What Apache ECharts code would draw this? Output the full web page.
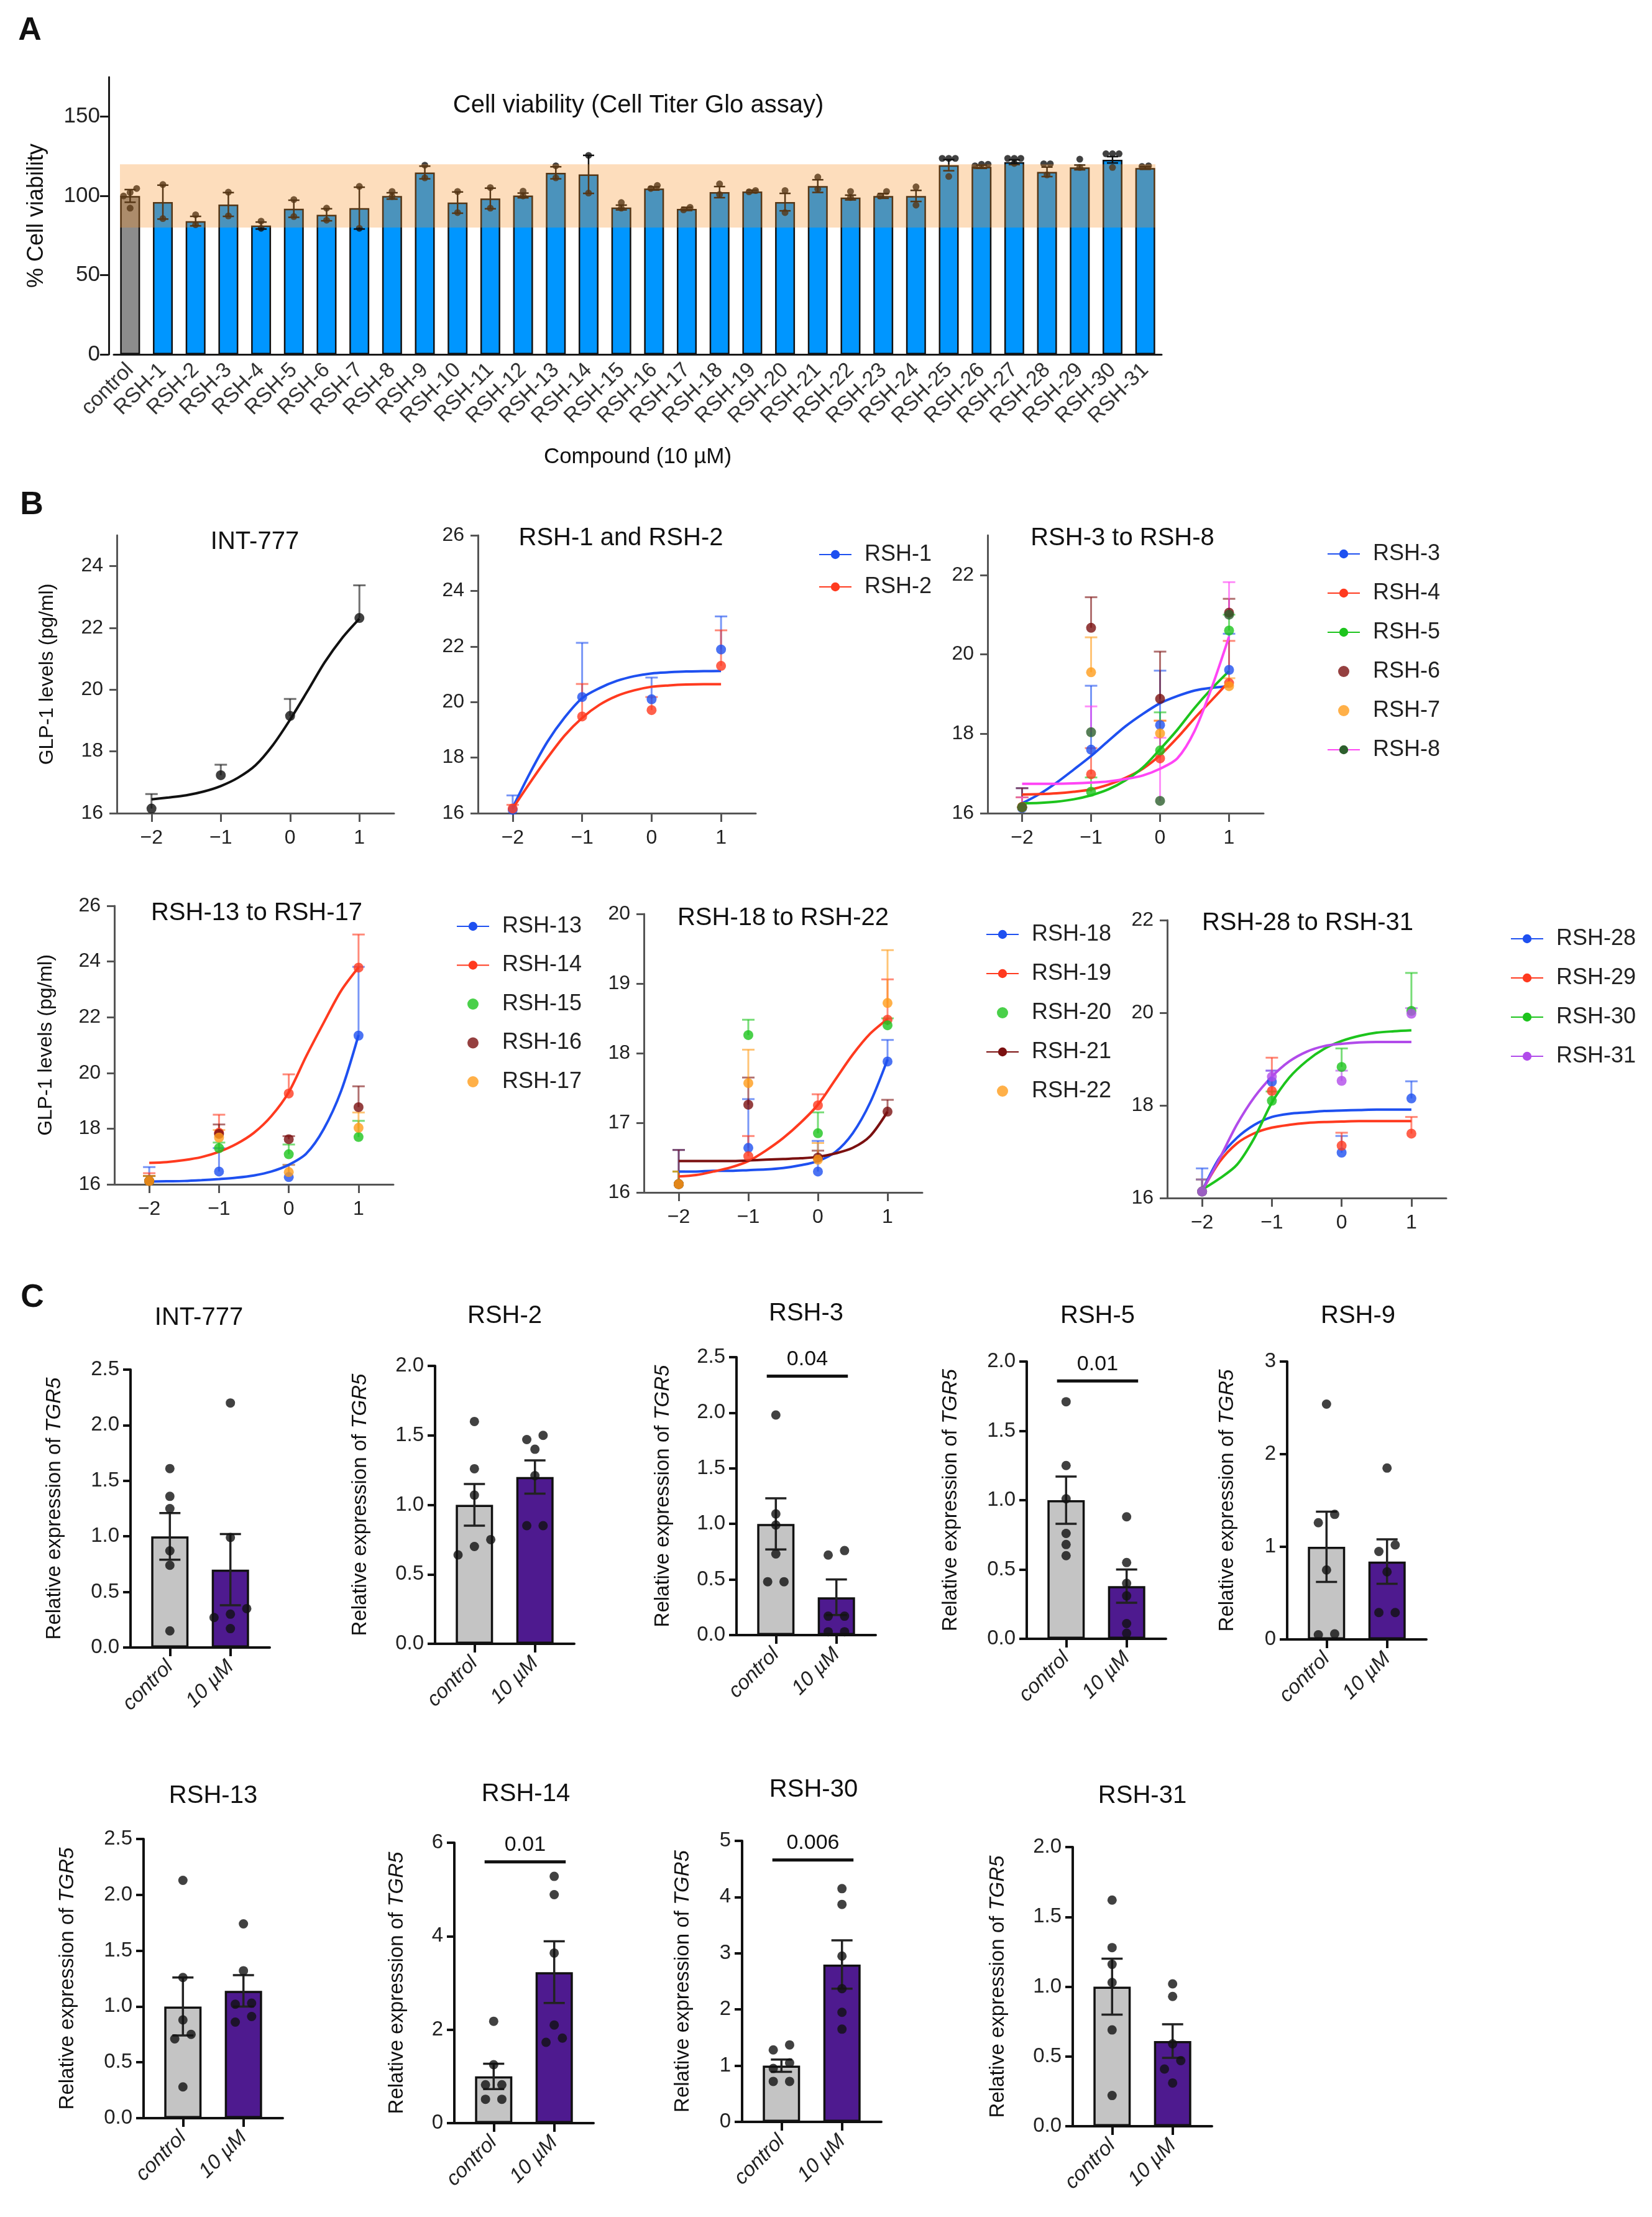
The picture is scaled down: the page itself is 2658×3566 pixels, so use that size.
<!DOCTYPE html>
<html><head><meta charset="utf-8">
<script src="https://cdn.jsdelivr.net/npm/echarts@6/dist/echarts.min.js"></script>
<style>html,body{margin:0;padding:0;background:#fff}#c{width:2658px;height:3566px}</style>
</head><body><div id="c"></div>
<script>
const FONT = "'Liberation Sans', Arial, Helvetica, sans-serif";

// ================= DATA =================
// Panel A
const aCategories = ['control','RSH-1','RSH-2','RSH-3','RSH-4','RSH-5','RSH-6','RSH-7','RSH-8','RSH-9','RSH-10','RSH-11','RSH-12','RSH-13','RSH-14','RSH-15','RSH-16','RSH-17','RSH-18','RSH-19','RSH-20','RSH-21','RSH-22','RSH-23','RSH-24','RSH-25','RSH-26','RSH-27','RSH-28','RSH-29','RSH-30','RSH-31'];
const aMeans = [100,96.1,84.1,94.6,81.3,91.9,88.1,92.3,100,114.8,95.8,98.4,100.3,114.6,113.6,92.7,104.7,91.8,102.4,102.8,96.1,106.2,99,100,100,119.4,118.4,121.3,115.2,118,122.8,117.6];
const aErrors = [4,10.7,3,7.5,2.2,5.4,3.8,13.2,2,4,6.7,6.5,1.5,3.8,12,1.5,1,1,3.5,0.8,5.5,4,1.5,1.5,3.5,3.5,1,1.5,3,1.5,2,0.8];
const aPoints = [[104.7,102.2,100,92.3],[107.2,85.7],[88.1,81.9],[102.4,87.4],[84.1,79.6],[97.7,87],[92.3,84.7],[106,79.6],[102.8,99.6],[119.4,111.4],[102.8,89.5],[105.3,92.3],[103,100],[119,111.4],[125.6,101.8],[95.8,92.3],[106.6,104.7],[92.8,91.2],[107.6,100.9],[103.4,102.6],[103.4,89.5],[111.9,104.3],[102.8,99],[102.8,100],[105.7,94.2],[123.7,123.7,123.7,112.3],[120,120,119],[123.7,123.7,123.7,120.5],[120.3,120.3,113.3],[123.2,118],[126.6,126.6,126.6,118],[119,118.6]];
const aBand = [80, 120];
const aYTicks = [0, 50, 100, 150];

// Panel B
const doseX = [-2, -1, 0, 1];
const curveX = [-2, -1.75, -1.5, -1.25, -1, -0.75, -0.5, -0.25, 0, 0.25, 0.5, 0.75, 1];
const bXTicks = [-2, -1, 0, 1];

const b1Names = ['INT-777'];
const b1Means = [[16.15,17.23,19.15,22.32]];
const b1Upper = [[16.62,17.57,19.70,23.38]];
const b1Curves = [[16.45,16.51,16.58,16.70,16.88,17.15,17.55,18.20,19.03,19.95,20.89,21.67,22.30]];
const b1YTicks = [16,18,20,22,24];

const b2Names = ['RSH-1','RSH-2'];
const b2Means = [[16.12,20.18,20.10,21.89],[16.17,19.48,19.71,21.30]];
const b2Upper = [[16.64,22.13,20.88,23.08],[16.30,20.65,20.18,22.58]];
const b2Curves = [[16.20,17.45,18.57,19.45,20.14,20.50,20.76,20.93,21.03,21.07,21.10,21.11,21.12],[16.17,17.10,17.99,18.80,19.43,19.90,20.22,20.42,20.55,20.60,20.63,20.64,20.64]];
const b2YTicks = [16,18,20,22,24,26];

const b3Names = ['RSH-3','RSH-4','RSH-5','RSH-6','RSH-7','RSH-8'];
const b3Means = [[16.13,17.60,18.22,19.61],[16.16,16.98,17.38,19.28],[16.15,16.54,17.58,20.60],[16.15,20.67,18.88,21.05],[16.15,19.55,18.01,19.20],[16.15,18.04,16.31,21.00]];
const b3Upper = [[16.63,19.21,19.59,20.52],[16.40,17.64,18.33,20.34],[16.40,16.90,18.54,21.00],[16.63,21.44,20.07,21.40],[16.40,20.43,18.33,19.40],[16.40,18.69,17.90,21.82]];
const b3Curves = [[16.25,16.48,16.77,17.10,17.44,17.82,18.19,18.50,18.77,18.95,19.09,19.16,19.20],[16.47,16.48,16.50,16.54,16.60,16.72,16.89,17.12,17.46,17.90,18.39,18.85,19.32],[16.25,16.26,16.29,16.35,16.45,16.60,16.83,17.15,17.61,18.10,18.65,19.14,19.58],null,null,[16.74,16.74,16.74,16.75,16.77,16.80,16.86,16.95,17.12,17.38,18.07,19.17,20.45]];
const b3YTicks = [16,18,20,22];

const b4Names = ['RSH-13','RSH-14','RSH-15','RSH-16','RSH-17'];
const b4Means = [[16.12,16.46,16.26,21.34],[16.12,17.85,19.26,23.78],[16.12,17.30,17.08,17.70],[16.12,17.81,17.62,18.77],[16.12,17.68,16.44,18.03]];
const b4Upper = [[16.62,17.30,16.70,23.81],[16.40,18.50,19.95,24.97],[16.30,17.50,17.43,18.28],[16.30,18.15,17.73,19.52],[16.30,17.95,16.70,18.58]];
const b4Curves = [[16.10,16.11,16.12,16.15,16.19,16.24,16.32,16.46,16.70,17.10,17.98,19.35,21.36],[16.77,16.80,16.87,16.98,17.17,17.45,17.85,18.45,19.31,20.60,21.80,22.95,23.79],null,null,null];
const b4YTicks = [16,18,20,22,24,26];

const b5Names = ['RSH-18','RSH-19','RSH-20','RSH-21','RSH-22'];
const b5Means = [[16.12,16.64,16.30,17.88],[16.12,16.52,17.25,18.48],[16.12,18.26,16.85,18.40],[16.12,17.26,16.50,17.16],[16.12,17.57,16.47,18.72]];
const b5Upper = [[16.61,17.34,16.74,18.19],[16.30,16.81,17.41,19.06],[16.30,18.48,17.15,18.50],[16.61,17.65,16.60,17.33],[16.30,18.05,16.71,19.48]];
const b5Curves = [[16.30,16.30,16.31,16.31,16.32,16.33,16.35,16.39,16.45,16.58,16.85,17.29,17.91],[16.23,16.25,16.30,16.36,16.45,16.60,16.78,17.00,17.26,17.62,17.98,18.28,18.49],null,[16.45,16.45,16.45,16.45,16.46,16.47,16.48,16.49,16.51,16.56,16.64,16.81,17.16],null];
const b5YTicks = [16,17,18,19,20];

const b6Names = ['RSH-28','RSH-29','RSH-30','RSH-31'];
const b6Means = [[16.14,18.51,16.98,18.15],[16.14,18.31,17.13,17.39],[16.14,18.10,18.83,20.04],[16.14,18.62,18.53,19.98]];
const b6Upper = [[16.64,18.75,17.34,18.52],[16.40,19.03,17.41,17.75],[16.40,18.30,19.23,20.86],[16.40,18.75,18.75,20.10]];
const b6Curves = [[16.15,16.87,17.30,17.58,17.75,17.82,17.85,17.88,17.89,17.90,17.91,17.91,17.91],[16.15,16.78,17.18,17.40,17.52,17.58,17.62,17.64,17.65,17.66,17.66,17.66,17.66],[16.18,16.42,16.72,17.30,18.06,18.60,18.96,19.22,19.39,19.50,19.57,19.60,19.62],[16.15,16.85,17.59,18.18,18.62,18.95,19.16,19.28,19.33,19.36,19.37,19.37,19.37]];
const b6YTicks = [16,18,20,22];

// Panel C
const cTitles = ['INT-777','RSH-2','RSH-3','RSH-5','RSH-9','RSH-13','RSH-14','RSH-30','RSH-31'];
const cGroups = ['control','10 µM'];
const cMeans = [[1.00,0.70],[1.00,1.20],[1.00,0.34],[1.00,0.38],[1.00,0.84],[1.00,1.14],[1.00,3.23],[1.00,2.80],[1.00,0.61]];
const cSEM = [[0.21,0.32],[0.15,0.12],[0.23,0.16],[0.17,0.12],[0.38,0.24],[0.26,0.14],[0.27,0.66],[0.11,0.43],[0.20,0.12]];
const cControlPts = [[1.61,1.36,1.25,0.87,0.74,0.15],[1.60,1.26,1.07,0.75,0.70,0.64],[1.98,1.09,0.99,0.73,0.48,0.48],[1.71,1.25,1.01,0.76,0.68,0.60],[2.54,1.35,1.26,0.75,0.05,0.06],[2.13,1.26,0.88,0.75,0.71,0.28],[2.18,1.25,0.82,0.82,0.51,0.51],[1.37,1.28,1.05,0.95,0.72,0.72],[1.62,1.28,1.16,1.03,0.69,0.22]];
const cTreatedPts = [[2.20,0.99,0.35,0.27,0.30,0.17],[1.47,1.50,1.40,1.21,0.85,0.85],[0.72,0.76,0.17,0.17,0.03,0.03],[0.88,0.55,0.40,0.31,0.11,0.04],[1.85,1.02,0.95,0.73,0.29,0.29],[1.74,1.32,1.03,1.02,0.91,0.86],[5.28,4.89,3.64,2.10,1.73,1.82],[4.15,3.87,2.95,2.37,1.95,1.65],[1.02,0.93,0.59,0.47,0.41,0.31]];
const cPValues = [null,null,'0.04','0.01',null,null,'0.01','0.006',null];
const cBracketY = [null,null,2.33,1.86,null,null,5.59,4.66,null];
const cYMax = [2.5,2.0,2.5,2.0,3,2.5,6,5,2.0];
const cYStep = [0.5,0.5,0.5,0.5,1,0.5,2,1,0.5];
const cYDecimals = [1,1,1,1,0,1,0,0,1];

// ================= STYLE / LAYOUT =================
const C = {blue:'#1E50F0', red:'#FF3A1F', green:'#1DC41D', darkred:'#7B1010', orange:'#FF9C1A', magenta:'#FF45F5', darkgreen:'#2D5F2D', purple:'#B14BEA', black:'#111111'};
const bStyle = {
  'INT-777':{line:C.black, dot:C.black},
  'RSH-1':{line:C.blue, dot:C.blue}, 'RSH-2':{line:C.red, dot:C.red},
  'RSH-3':{line:C.blue, dot:C.blue}, 'RSH-4':{line:C.red, dot:C.red}, 'RSH-5':{line:C.green, dot:C.green},
  'RSH-6':{line:null, dot:C.darkred}, 'RSH-7':{line:null, dot:C.orange}, 'RSH-8':{line:C.magenta, dot:C.darkgreen},
  'RSH-13':{line:C.blue, dot:C.blue}, 'RSH-14':{line:C.red, dot:C.red}, 'RSH-15':{line:null, dot:C.green},
  'RSH-16':{line:null, dot:C.darkred}, 'RSH-17':{line:null, dot:C.orange},
  'RSH-18':{line:C.blue, dot:C.blue}, 'RSH-19':{line:C.red, dot:C.red}, 'RSH-20':{line:null, dot:C.green},
  'RSH-21':{line:C.darkred, dot:C.darkred}, 'RSH-22':{line:null, dot:C.orange},
  'RSH-28':{line:C.blue, dot:C.blue}, 'RSH-29':{line:C.red, dot:C.red}, 'RSH-30':{line:C.green, dot:C.green}, 'RSH-31':{line:C.purple, dot:C.purple}
};

const bPanels = [
  {names:b1Names, means:b1Means, upper:b1Upper, curves:b1Curves, ymax:25, yticks:b1YTicks, title:'INT-777',
   L:{left:188, top:861, width:446, height:447, tx:410, ty:872, yName:true, nameGap:96}},
  {names:b2Names, means:b2Means, upper:b2Upper, curves:b2Curves, ymax:26, yticks:b2YTicks, title:'RSH-1 and RSH-2',
   L:{left:769, top:861, width:447, height:447, tx:999, ty:866, lg:{left:1317, top:873, gap:14}}},
  {names:b3Names, means:b3Means, upper:b3Upper, curves:b3Curves, ymax:23, yticks:b3YTicks, title:'RSH-3 to RSH-8',
   L:{left:1589, top:861, width:444, height:447, tx:1806, ty:866, lg:{left:2135, top:872, gap:25}}},
  {names:b4Names, means:b4Means, upper:b4Upper, curves:b4Curves, ymax:26, yticks:b4YTicks, title:'RSH-13 to RSH-17',
   L:{left:184, top:1457, width:449, height:448, tx:413, ty:1469, yName:true, nameGap:94, lg:{left:734, top:1471, gap:24.5}}},
  {names:b5Names, means:b5Means, upper:b5Upper, curves:b5Curves, ymax:20, yticks:b5YTicks, title:'RSH-18 to RSH-22',
   L:{left:1036, top:1470, width:448, height:448, tx:1260, ty:1477, lg:{left:1586, top:1484, gap:25}}},
  {names:b6Names, means:b6Means, upper:b6Upper, curves:b6Curves, ymax:22, yticks:b6YTicks, title:'RSH-28 to RSH-31',
   L:{left:1878, top:1480, width:449, height:447, tx:2104, ty:1485, lg:{left:2430, top:1491, gap:25}}}
];

const cLayout = [
  {left:210, top:2203, height:447, nameGap:106, tx:320, ty:2120},
  {left:700, top:2197, height:447, nameGap:104, tx:812, ty:2117},
  {left:1185, top:2183, height:447, nameGap:102, tx:1297, ty:2113},
  {left:1652, top:2190, height:446, nameGap:106, tx:1766, ty:2117},
  {left:2071, top:2190, height:447, nameGap:80, tx:2185, ty:2117},
  {left:231, top:2958, height:449, nameGap:106, tx:343, ty:2889},
  {left:731, top:2964, height:451, nameGap:76, tx:846, ty:2886},
  {left:1194, top:2961, height:452, nameGap:79, tx:1309, ty:2879},
  {left:1726, top:2971, height:449, nameGap:104, tx:1838, ty:2889}
];
const cBarColors = ['#C4C4C4', '#4E1A8F'];
const cBracketX = [-0.15, 1.19];
const aBandX = [-0.31, 31.31];

// ================= HELPERS =================
const grids = [], xAxes = [], yAxes = [], series = [], legends = [], graphics = [];
function addGrid(g) { grids.push(Object.assign({outerBoundsMode:'none', containLabel:false, show:false}, g)); return grids.length - 1; }
function gText(text, x, y, size, bold) {
  return {type:'text', x:x, y:y, z:100, silent:true, style:{text:text, font:(bold ? 'bold ' : '') + size + 'px ' + FONT, fill:'#111',
    align:'center', verticalAlign:'middle', textAlign:'center', textVerticalAlign:'middle'}};
}
function swarm(center, vals, thr, step) {
  const idx = vals.map((v, i) => i).sort((a, b) => vals[a] - vals[b]);
  const out = new Array(vals.length);
  let cl = [idx[0]];
  const flush = () => { const k = cl.length; cl.forEach((j, n) => { out[j] = [center + (n - (k - 1) / 2) * step, vals[j]]; }); };
  for (let t = 1; t < idx.length; t++) {
    if (vals[idx[t]] - vals[idx[t - 1]] < thr) cl.push(idx[t]); else { flush(); cl = [idx[t]]; }
  }
  flush();
  return out;
}
function errRender(color, capHalf, lw, opacity, both) {
  return function (params, api) {
    const x = api.value(0), lo = api.value(1), hi = api.value(2);
    const p0 = api.coord([x, lo]), p1 = api.coord([x, hi]);
    const st = {stroke:color, lineWidth:lw, opacity:opacity};
    const ch = [
      {type:'line', shape:{x1:p0[0], y1:p0[1], x2:p1[0], y2:p1[1]}, style:st},
      {type:'line', shape:{x1:p1[0] - capHalf, y1:p1[1], x2:p1[0] + capHalf, y2:p1[1]}, style:st}
    ];
    if (both) ch.push({type:'line', shape:{x1:p0[0] - capHalf, y1:p0[1], x2:p0[0] + capHalf, y2:p0[1]}, style:st});
    return {type:'group', children:ch};
  };
}
const fmtDose = v => (v < 0 ? '\u2212' + Math.abs(v) : String(v));

// ================= PANEL A =================
graphics.push(gText('A', 48, 50, 52, true));
graphics.push(gText('Cell viability (Cell Titer Glo assay)', 1027, 170, 40, false));
const gA = addGrid({left:183, top:124, width:1686, height:446});
xAxes.push({gridIndex:gA, type:'category', data:aCategories, boundaryGap:true,
  axisLine:{onZero:false, lineStyle:{color:'#1a1a1a', width:3}},
  axisTick:{alignWithLabel:true, length:11, lineStyle:{color:'#1a1a1a', width:3}},
  axisLabel:{interval:0, rotate:45, fontSize:34, color:'#333', fontFamily:FONT, margin:20},
  splitLine:{show:false},
  name:'Compound (10 µM)', nameLocation:'middle', nameGap:148, nameTextStyle:{fontSize:35, color:'#111', fontFamily:FONT}});
const xA = xAxes.length - 1;
xAxes.push({gridIndex:gA, type:'value', min:-0.5, max:aCategories.length - 0.5, show:false});
const xA2 = xAxes.length - 1;
yAxes.push({gridIndex:gA, type:'value', min:0, max:175, offset:8,
  axisLine:{show:true, onZero:false, lineStyle:{color:'#1a1a1a', width:3}},
  axisTick:{show:true, length:14, customValues:aYTicks, lineStyle:{color:'#1a1a1a', width:3}},
  axisLabel:{customValues:aYTicks, fontSize:35, color:'#222', margin:14, fontFamily:FONT},
  splitLine:{show:false},
  name:'% Cell viability', nameLocation:'middle', nameGap:98, nameTextStyle:{fontSize:36, color:'#111', fontFamily:FONT}});
const yA = yAxes.length - 1;

series.push({type:'bar', xAxisIndex:xA, yAxisIndex:yA, barWidth:32, z:2, silent:true,
  data:aMeans.map((v, i) => ({value:v, itemStyle:{color:i === 0 ? '#8C8C8C' : '#0096FF'}})),
  itemStyle:{borderColor:'#111', borderWidth:2.5}});
series.push({type:'custom', xAxisIndex:xA2, yAxisIndex:yA, z:3, silent:true,
  renderItem:errRender('#111', 9, 2.5, 1, true),
  data:aMeans.map((m, i) => [i, m - aErrors[i], m + aErrors[i]])});
let aDots = [];
aPoints.forEach((pts, i) => { aDots = aDots.concat(swarm(i, pts, 3, 0.2)); });
series.push({type:'scatter', xAxisIndex:xA2, yAxisIndex:yA, z:4, silent:true, symbolSize:11,
  itemStyle:{color:'#111'}, data:aDots});
series.push({type:'custom', xAxisIndex:xA2, yAxisIndex:yA, z:10, silent:true,
  renderItem:function (params, api) {
    const p1 = api.coord([api.value(0), api.value(3)]);
    const p2 = api.coord([api.value(1), api.value(2)]);
    return {type:'rect', shape:{x:p1[0], y:p1[1], width:p2[0] - p1[0], height:p2[1] - p1[1]}, style:{fill:'rgba(248,143,33,0.3)'}};
  },
  data:[[aBandX[0], aBandX[1], aBand[0], aBand[1]]]});

// ================= PANEL B =================
graphics.push(gText('B', 51, 813, 52, true));
bPanels.forEach((p) => {
  const L = p.L;
  const g = addGrid({left:L.left, top:L.top, width:L.width, height:L.height});
  xAxes.push({gridIndex:g, type:'value', min:-2.5, max:1.5,
    axisLine:{onZero:false, lineStyle:{color:'#555', width:3}},
    axisTick:{customValues:bXTicks, length:14, lineStyle:{color:'#555', width:3}},
    axisLabel:{customValues:bXTicks, formatter:fmtDose, fontSize:32, color:'#222', fontFamily:FONT, margin:24},
    splitLine:{show:false}});
  yAxes.push({gridIndex:g, type:'value', min:16, max:p.ymax,
    axisLine:{show:true, onZero:false, lineStyle:{color:'#555', width:3}},
    axisTick:{show:true, customValues:p.yticks, length:12, lineStyle:{color:'#555', width:3}},
    axisLabel:{customValues:p.yticks, fontSize:32, color:'#222', fontFamily:FONT, margin:22},
    splitLine:{show:false},
    name:L.yName ? 'GLP-1 levels (pg/ml)' : '', nameLocation:'middle', nameGap:L.nameGap || 60,
    nameTextStyle:{fontSize:32, color:'#111', fontFamily:FONT}});
  const xi = xAxes.length - 1, yi = yAxes.length - 1;
  p.names.forEach((nm, s) => {
    const st = bStyle[nm];
    const errCol = st.line || st.dot;
    series.push({type:'custom', name:nm + ' error', xAxisIndex:xi, yAxisIndex:yi, z:2, silent:true,
      renderItem:errRender(errCol, 10, 3, 0.6, false),
      data:doseX.map((x, i) => [x, p.means[s][i], p.upper[s][i]])});
    if (st.line && p.curves[s]) {
      series.push({type:'line', name:nm, xAxisIndex:xi, yAxisIndex:yi, z:3, silent:true,
        smooth:0.3, showSymbol:false, symbol:'circle', symbolSize:14,
        itemStyle:{color:st.dot}, lineStyle:{color:st.line, width:4},
        data:curveX.map((x, i) => [x, p.curves[s][i]])});
      series.push({type:'scatter', name:nm + ' mean', xAxisIndex:xi, yAxisIndex:yi, z:4, silent:true,
        symbolSize:16, itemStyle:{color:st.dot},
        data:doseX.map((x, i) => [x, p.means[s][i]])});
    } else {
      series.push({type:'scatter', name:nm, xAxisIndex:xi, yAxisIndex:yi, z:4, silent:true,
        symbolSize:16, itemStyle:{color:st.dot},
        data:doseX.map((x, i) => [x, p.means[s][i]])});
    }
  });
  if (L.lg) {
    legends.push({show:true, orient:'vertical', left:L.lg.left, top:L.lg.top, padding:0,
      itemWidth:52, itemHeight:18, itemGap:L.lg.gap, selectedMode:false, data:p.names,
      textStyle:{fontSize:36, color:'#222', fontFamily:FONT, padding:[0, 0, 0, 16], lineHeight:38}});
  }
  graphics.push(gText(p.title, L.tx, L.ty, 40, false));
});

// ================= PANEL C =================
graphics.push(gText('C', 52, 2088, 52, true));
cTitles.forEach((t, k) => {
  const L = cLayout[k];
  const g = addGrid({left:L.left, top:L.top, width:224, height:L.height});
  xAxes.push({gridIndex:g, type:'value', min:-0.65, max:1.65,
    axisLine:{onZero:false, lineStyle:{color:'#111', width:4}},
    axisTick:{customValues:[0, 1], length:14, lineStyle:{color:'#111', width:4}},
    axisLabel:{customValues:[0, 1], formatter:v => cGroups[Math.round(v)], rotate:45, fontSize:33,
      fontStyle:'italic', color:'#222', fontFamily:FONT, margin:26},
    splitLine:{show:false}});
  yAxes.push({gridIndex:g, type:'value', min:0, max:cYMax[k], interval:cYStep[k],
    axisLine:{show:true, onZero:false, lineStyle:{color:'#111', width:4}},
    axisTick:{show:true, length:12, lineStyle:{color:'#111', width:4}},
    axisLabel:{formatter:v => Number(v).toFixed(cYDecimals[k]), fontSize:33, color:'#222', fontFamily:FONT, margin:18},
    splitLine:{show:false},
    name:'{a|Relative expression of }{b|TGR5}', nameLocation:'middle', nameGap:L.nameGap,
    nameTextStyle:{fontSize:33, color:'#111', fontFamily:FONT,
      rich:{a:{fontSize:33, color:'#111', fontFamily:FONT}, b:{fontSize:33, color:'#111', fontFamily:FONT, fontStyle:'italic'}}}});
  const xi = xAxes.length - 1, yi = yAxes.length - 1;
  series.push({type:'bar', xAxisIndex:xi, yAxisIndex:yi, barWidth:60, z:2, silent:true,
    itemStyle:{borderColor:'#111', borderWidth:3.5},
    data:cMeans[k].map((m, j) => ({value:[j, m], itemStyle:{color:cBarColors[j]}}))});
  series.push({type:'custom', xAxisIndex:xi, yAxisIndex:yi, z:3, silent:true,
    renderItem:errRender('#222', 17, 3.5, 1, true),
    data:cMeans[k].map((m, j) => [j, m - cSEM[k][j], m + cSEM[k][j]])});
  const thr = 0.035 * cYMax[k];
  const dots = swarm(0, cControlPts[k], thr, 0.27).concat(swarm(1, cTreatedPts[k], thr, 0.27));
  series.push({type:'scatter', xAxisIndex:xi, yAxisIndex:yi, z:4, silent:true, symbolSize:15,
    itemStyle:{color:'#111'}, data:dots});
  if (cPValues[k]) {
    const label = cPValues[k];
    series.push({type:'custom', xAxisIndex:xi, yAxisIndex:yi, z:5, silent:true,
      renderItem:function (params, api) {
        const a = api.coord([api.value(0), api.value(2)]), b = api.coord([api.value(1), api.value(2)]);
        return {type:'group', children:[
          {type:'line', shape:{x1:a[0], y1:a[1], x2:b[0], y2:b[1]}, style:{stroke:'#111', lineWidth:5}},
          {type:'text', x:(a[0] + b[0]) / 2, y:a[1] - 10, style:{text:label, fill:'#111', font:'34px ' + FONT,
            align:'center', verticalAlign:'bottom', textAlign:'center', textVerticalAlign:'bottom'}}
        ]};
      },
      data:[[cBracketX[0], cBracketX[1], cBracketY[k]]]});
  }
  graphics.push(gText(t, L.tx, L.ty, 40, false));
});

// ================= RENDER =================
const chart = echarts.init(document.getElementById('c'), null, {renderer:'canvas', width:2658, height:3566});
chart.setOption({
  backgroundColor:'#ffffff',
  animation:false,
  textStyle:{fontFamily:FONT},
  grid:grids, xAxis:xAxes, yAxis:yAxes, series:series, legend:legends,
  tooltip:{show:false},
  graphic:{elements:graphics}
});
</script>
</body></html>
